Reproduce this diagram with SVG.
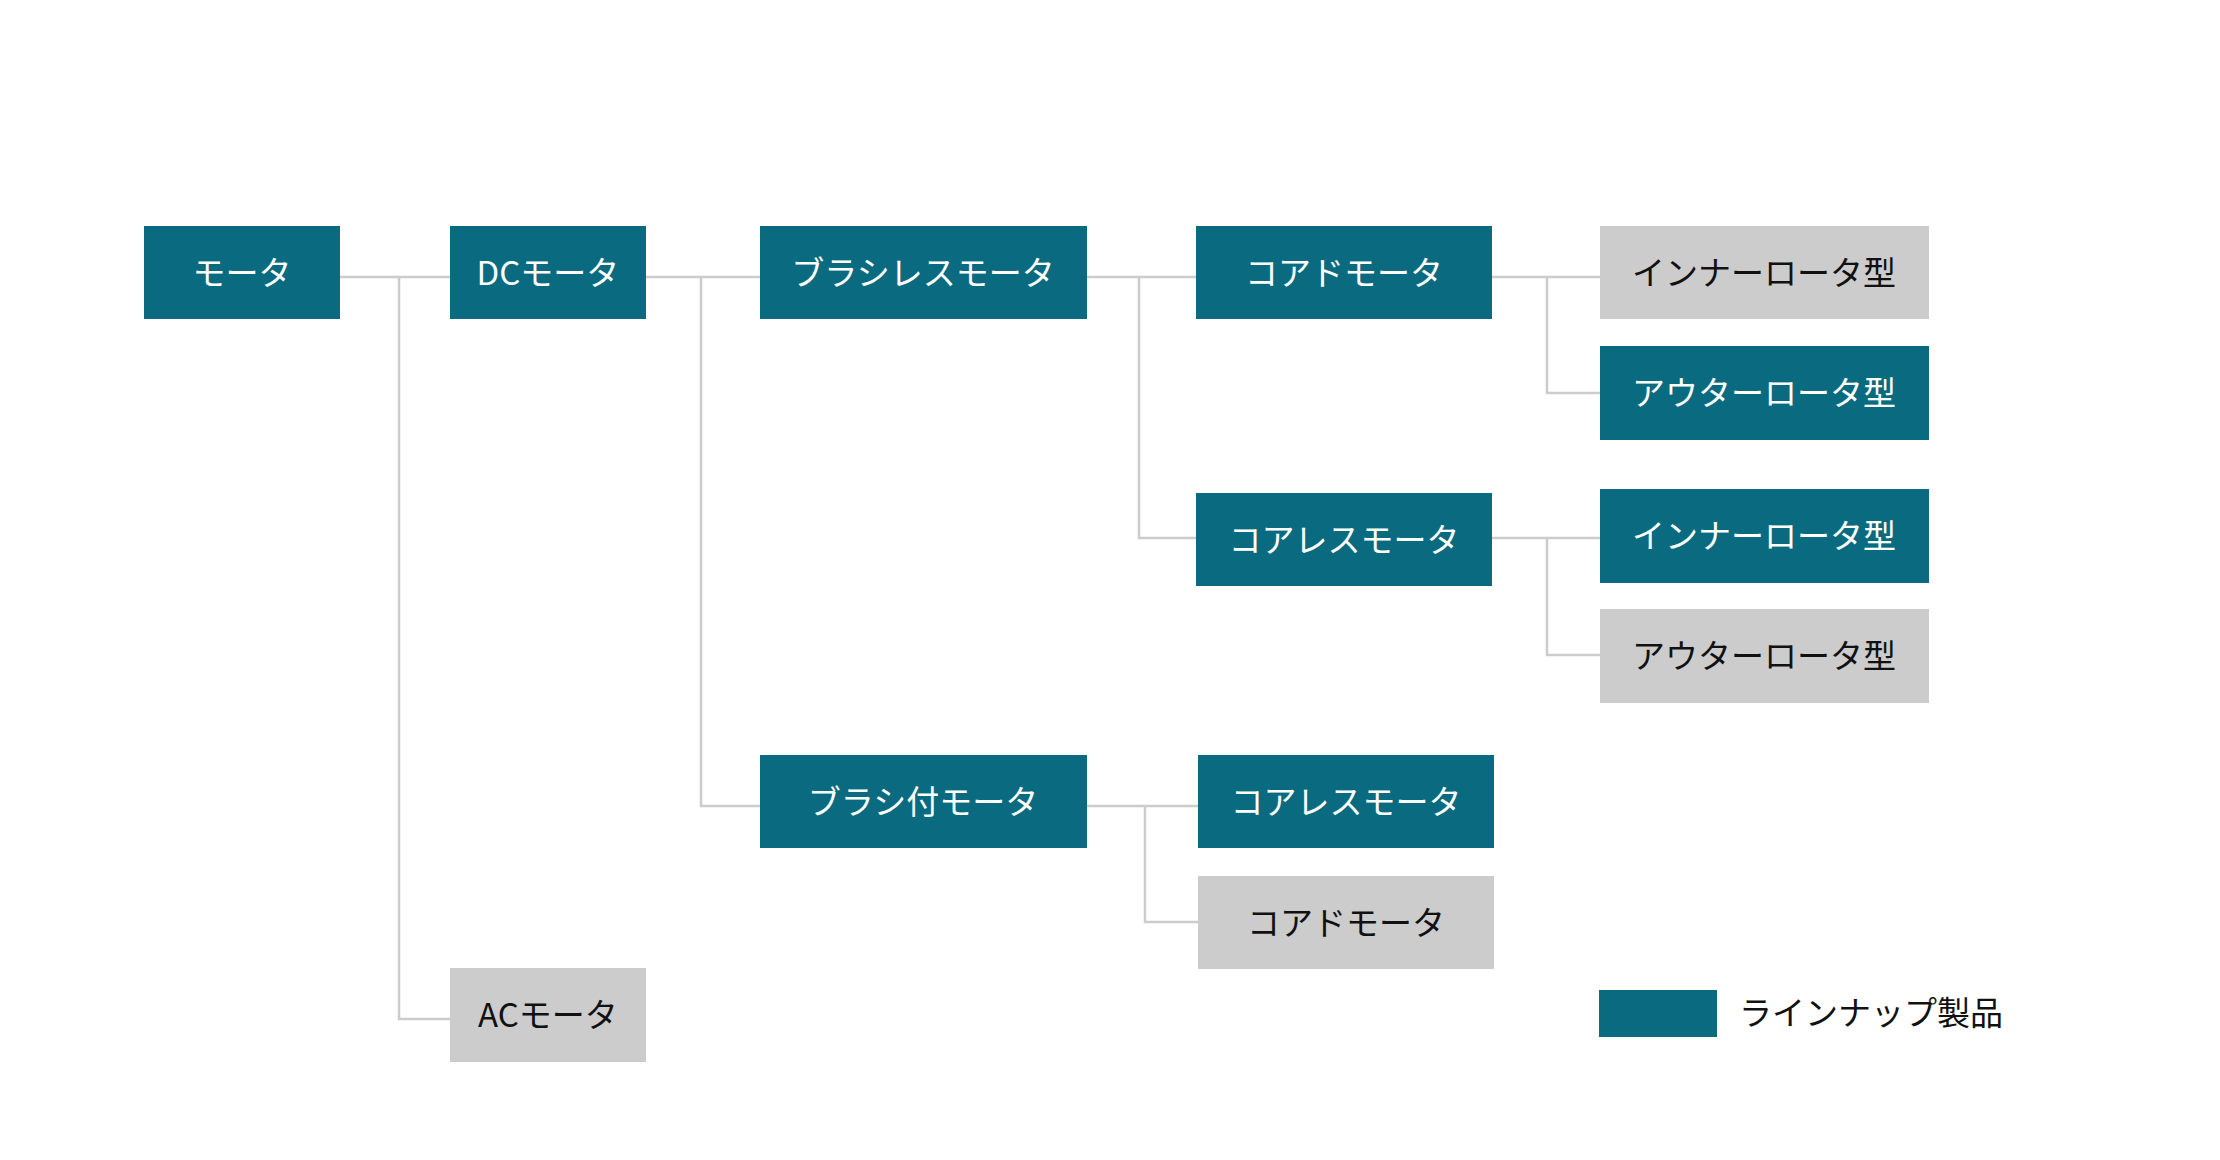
<svg xmlns="http://www.w3.org/2000/svg" width="2220" height="1160" viewBox="0 0 2220 1160">
<style>
.t{fill:#0a6b80}
.g{fill:#cbcccb}
text{font-family:"Noto Sans CJK JP","Noto Sans",sans-serif;font-size:33px;text-anchor:middle}
.tw{fill:#ffffff}
.tb{fill:#111111}
.c{fill:none;stroke:#cccccc;stroke-width:2.5}
</style>
<rect width="2220" height="1160" fill="#ffffff"/>
<g id="connectors">
<path class="c" d="M340 277H450M399 277V1019H450"/>
<path class="c" d="M646 277H760M701 277V806H760"/>
<path class="c" d="M1087 277H1196M1139 277V538H1196"/>
<path class="c" d="M1492 277H1600M1547 277V393H1600"/>
<path class="c" d="M1492 538H1600M1547 538V655H1600"/>
<path class="c" d="M1087 806H1198M1145 806V922H1198"/>
</g>
<g id="motor"><rect class="t" x="144" y="226" width="196" height="93"/><text class="tw" x="242" y="285">モータ</text></g>
<g id="dc"><rect class="t" x="450" y="226" width="196" height="93"/><text class="tw" x="548" y="285">DCモータ</text></g>
<g id="brushless"><rect class="t" x="760" y="226" width="327" height="93"/><text class="tw" x="923" y="285">ブラシレスモータ</text></g>
<g id="cored1"><rect class="t" x="1196" y="226" width="296" height="93"/><text class="tw" x="1344" y="285">コアドモータ</text></g>
<g id="inner1"><rect class="g" x="1600" y="226" width="329" height="93"/><text class="tb" x="1764" y="285">インナーロータ型</text></g>
<g id="outer1"><rect class="t" x="1600" y="346" width="329" height="94"/><text class="tw" x="1764" y="405">アウターロータ型</text></g>
<g id="coreless1"><rect class="t" x="1196" y="493" width="296" height="93"/><text class="tw" x="1344" y="552">コアレスモータ</text></g>
<g id="inner2"><rect class="t" x="1600" y="489" width="329" height="94"/><text class="tw" x="1764" y="548">インナーロータ型</text></g>
<g id="outer2"><rect class="g" x="1600" y="609" width="329" height="94"/><text class="tb" x="1764" y="668">アウターロータ型</text></g>
<g id="brushed"><rect class="t" x="760" y="755" width="327" height="93"/><text class="tw" x="923" y="814">ブラシ付モータ</text></g>
<g id="coreless2"><rect class="t" x="1198" y="755" width="296" height="93"/><text class="tw" x="1346" y="814">コアレスモータ</text></g>
<g id="cored2"><rect class="g" x="1198" y="876" width="296" height="93"/><text class="tb" x="1346" y="935">コアドモータ</text></g>
<g id="ac"><rect class="g" x="450" y="968" width="196" height="94"/><text class="tb" x="548" y="1027">ACモータ</text></g>
<g id="legend"><rect class="t" x="1599" y="990" width="118" height="47"/><text class="tb" x="1739" y="1025" style="text-anchor:start">ラインナップ製品</text></g>
</svg>
